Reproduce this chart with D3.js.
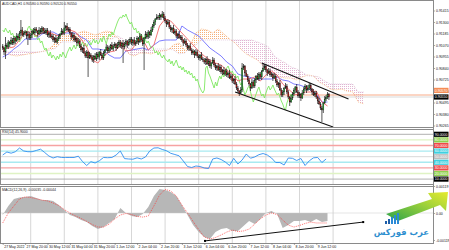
<!DOCTYPE html>
<html>
<head>
<meta charset="utf-8">
<script src="https://cdnjs.cloudflare.com/ajax/libs/d3/7.8.5/d3.min.js"></script>
<style>
body{margin:0;background:#fff;}
svg{display:block;}
</style>
</head>
<body>
<svg width="449" height="250"></svg>
<script>
// AUDCAD H1, one value per bar (234 bars)
const open = [
0.9106,0.9104,0.9100,0.9107,0.9105,0.9110,0.9108,0.9112,0.9109,0.9114,0.9111,0.9116,0.9114,0.9119,0.9122,0.9117,
0.9119,0.9120,0.9116,0.9118,0.9114,0.9117,0.9121,0.9119,0.9123,0.9121,0.9118,0.9122,0.9120,0.9124,0.9121,0.9119,
0.9122,0.9117,0.9119,0.9115,0.9116,0.9112,0.9114,0.9110,0.9113,0.9116,0.9118,0.9121,0.9119,0.9124,0.9126,0.9122,
0.9123,0.9119,0.9115,0.9117,0.9112,0.9114,0.9109,0.9111,0.9106,0.9102,0.9104,0.9099,0.9096,0.9100,0.9094,0.9097,
0.9095,0.9092,0.9096,0.9093,0.9098,0.9095,0.9100,0.9097,0.9094,0.9099,0.9102,0.9105,0.9101,0.9104,0.9107,0.9103,
0.9106,0.9108,0.9104,0.9107,0.9110,0.9106,0.9109,0.9105,0.9108,0.9111,0.9107,0.9110,0.9113,0.9109,0.9112,0.9108,
0.9110,0.9114,0.9110,0.9116,0.9112,0.9108,0.9114,0.9118,0.9115,0.9120,0.9117,0.9122,0.9126,0.9130,0.9133,0.9135,
0.9134,0.9137,0.9135,0.9138,0.9134,0.9131,0.9128,0.9130,0.9125,0.9122,0.9124,0.9119,0.9121,0.9116,0.9118,0.9114,
0.9115,0.9112,0.9109,0.9111,0.9107,0.9104,0.9106,0.9102,0.9099,0.9101,0.9097,0.9100,0.9096,0.9094,0.9097,0.9093,
0.9092,0.9090,0.9093,0.9088,0.9091,0.9086,0.9089,0.9092,0.9087,0.9084,0.9086,0.9082,0.9085,0.9080,0.9082,0.9078,
0.9081,0.9077,0.9079,0.9074,0.9076,0.9071,0.9073,0.9068,0.9064,0.9061,0.9059,0.9062,0.9084,0.9086,0.9079,0.9076,
0.9072,0.9068,0.9064,0.9070,0.9066,0.9072,0.9076,0.9073,0.9078,0.9075,0.9081,0.9084,0.9086,0.9082,0.9079,0.9081,
0.9077,0.9078,0.9074,0.9076,0.9071,0.9067,0.9069,0.9062,0.9057,0.9060,0.9064,0.9066,0.9060,0.9055,0.9050,0.9054,
0.9058,0.9062,0.9065,0.9060,0.9056,0.9058,0.9054,0.9059,0.9063,0.9066,0.9062,0.9064,0.9067,0.9063,0.9060,0.9057,
0.9059,0.9055,0.9051,0.9048,0.9044,0.9042,0.9049,0.9053,0.9055,0.9058];
const high = [
0.9108,0.9105,0.9115,0.9109,0.9112,0.9111,0.9115,0.9114,0.9116,0.9115,0.9119,0.9118,0.9121,0.9132,0.9125,0.9121,
0.9122,0.9121,0.9121,0.9120,0.9119,0.9122,0.9124,0.9125,0.9125,0.9122,0.9125,0.9124,0.9126,0.9125,0.9124,0.9124,
0.9124,0.9120,0.9122,0.9118,0.9118,0.9115,0.9117,0.9115,0.9118,0.9119,0.9124,0.9123,0.9130,0.9127,0.9129,0.9125,
0.9125,0.9120,0.9120,0.9119,0.9116,0.9115,0.9114,0.9113,0.9108,0.9105,0.9107,0.9101,0.9102,0.9101,0.9100,0.9099,
0.9097,0.9097,0.9099,0.9100,0.9100,0.9101,0.9103,0.9099,0.9101,0.9103,0.9108,0.9107,0.9106,0.9108,0.9110,0.9108,
0.9110,0.9109,0.9110,0.9112,0.9112,0.9110,0.9112,0.9110,0.9113,0.9112,0.9113,0.9115,0.9115,0.9113,0.9115,0.9112,
0.9116,0.9115,0.9119,0.9118,0.9114,0.9115,0.9121,0.9120,0.9122,0.9121,0.9125,0.9128,0.9132,0.9134,0.9138,0.9137,
0.9139,0.9138,0.9141,0.9140,0.9136,0.9132,0.9133,0.9132,0.9127,0.9125,0.9127,0.9123,0.9123,0.9119,0.9121,0.9117,
0.9117,0.9113,0.9114,0.9113,0.9109,0.9107,0.9109,0.9104,0.9103,0.9102,0.9103,0.9102,0.9098,0.9098,0.9100,0.9095,
0.9094,0.9094,0.9096,0.9093,0.9093,0.9090,0.9095,0.9094,0.9089,0.9087,0.9089,0.9087,0.9087,0.9083,0.9085,0.9083,
0.9083,0.9080,0.9082,0.9078,0.9078,0.9074,0.9076,0.9070,0.9066,0.9062,0.9065,0.9089,0.9088,0.9087,0.9082,0.9078,
0.9074,0.9069,0.9073,0.9072,0.9074,0.9077,0.9079,0.9080,0.9080,0.9082,0.9089,0.9088,0.9088,0.9083,0.9084,0.9083,
0.9080,0.9079,0.9079,0.9078,0.9073,0.9070,0.9072,0.9064,0.9062,0.9065,0.9069,0.9068,0.9062,0.9056,0.9057,0.9060,
0.9064,0.9066,0.9068,0.9062,0.9060,0.9059,0.9062,0.9065,0.9068,0.9067,0.9067,0.9069,0.9069,0.9064,0.9063,0.9061,
0.9061,0.9056,0.9054,0.9050,0.9046,0.9050,0.9056,0.9057,0.9060,0.9059];
const low = [
0.9102,0.9097,0.9093,0.9103,0.9103,0.9105,0.9107,0.9107,0.9107,0.9108,0.9110,0.9112,0.9112,0.9116,0.9116,0.9115,
0.9117,0.9113,0.9107,0.9112,0.9112,0.9114,0.9118,0.9117,0.9119,0.9115,0.9117,0.9118,0.9118,0.9118,0.9118,0.9117,
0.9115,0.9114,0.9114,0.9113,0.9110,0.9109,0.9109,0.9108,0.9111,0.9113,0.9117,0.9117,0.9117,0.9121,0.9121,0.9120,
0.9117,0.9112,0.9114,0.9110,0.9110,0.9106,0.9108,0.9104,0.9100,0.9099,0.9098,0.9094,0.9094,0.9075,0.9093,0.9093,
0.9090,0.9089,0.9092,0.9091,0.9093,0.9092,0.9096,0.9092,0.9092,0.9096,0.9101,0.9099,0.9099,0.9101,0.9102,0.9101,
0.9104,0.9101,0.9103,0.9105,0.9104,0.9103,0.9089,0.9103,0.9106,0.9104,0.9106,0.9108,0.9107,0.9106,0.9107,0.9106,
0.9108,0.9107,0.9109,0.9110,0.9106,0.9082,0.9113,0.9113,0.9113,0.9114,0.9116,0.9120,0.9124,0.9127,0.9132,0.9132,
0.9132,0.9132,0.9134,0.9132,0.9129,0.9125,0.9127,0.9123,0.9120,0.9119,0.9118,0.9117,0.9114,0.9113,0.9113,0.9112,
0.9110,0.9106,0.9108,0.9105,0.9102,0.9101,0.9101,0.9097,0.9097,0.9094,0.9096,0.9094,0.9092,0.9091,0.9092,0.9090,
0.9088,0.9087,0.9087,0.9086,0.9084,0.9083,0.9088,0.9085,0.9082,0.9081,0.9081,0.9080,0.9078,0.9077,0.9077,0.9076,
0.9075,0.9074,0.9073,0.9072,0.9069,0.9068,0.9067,0.9062,0.9059,0.9056,0.9058,0.9060,0.9082,0.9076,0.9075,0.9070,
0.9066,0.9061,0.9063,0.9064,0.9064,0.9069,0.9072,0.9071,0.9073,0.9072,0.9080,0.9082,0.9080,0.9076,0.9078,0.9075,
0.9075,0.9071,0.9073,0.9069,0.9065,0.9064,0.9061,0.9055,0.9055,0.9057,0.9063,0.9058,0.9053,0.9046,0.9049,0.9052,
0.9056,0.9059,0.9059,0.9054,0.9054,0.9051,0.9053,0.9057,0.9061,0.9059,0.9061,0.9062,0.9061,0.9057,0.9056,0.9055,
0.9053,0.9048,0.9047,0.9042,0.9030,0.9039,0.9048,0.9051,0.9053,0.9052];
const close = [
0.9104,0.9100,0.9107,0.9105,0.9110,0.9108,0.9112,0.9109,0.9114,0.9111,0.9116,0.9114,0.9119,0.9122,0.9117,0.9119,
0.9120,0.9116,0.9118,0.9114,0.9117,0.9121,0.9119,0.9123,0.9121,0.9118,0.9122,0.9120,0.9124,0.9121,0.9119,0.9122,
0.9117,0.9119,0.9115,0.9116,0.9112,0.9114,0.9110,0.9113,0.9116,0.9118,0.9121,0.9119,0.9124,0.9126,0.9122,0.9123,
0.9119,0.9115,0.9117,0.9112,0.9114,0.9109,0.9111,0.9106,0.9102,0.9104,0.9099,0.9096,0.9100,0.9094,0.9097,0.9095,
0.9092,0.9096,0.9093,0.9098,0.9095,0.9100,0.9097,0.9094,0.9099,0.9102,0.9105,0.9101,0.9104,0.9107,0.9103,0.9106,
0.9108,0.9104,0.9107,0.9110,0.9106,0.9109,0.9105,0.9108,0.9111,0.9107,0.9110,0.9113,0.9109,0.9112,0.9108,0.9110,
0.9114,0.9110,0.9116,0.9112,0.9108,0.9114,0.9118,0.9115,0.9120,0.9117,0.9122,0.9126,0.9130,0.9133,0.9135,0.9134,
0.9137,0.9135,0.9138,0.9134,0.9131,0.9128,0.9130,0.9125,0.9122,0.9124,0.9119,0.9121,0.9116,0.9118,0.9114,0.9115,
0.9112,0.9109,0.9111,0.9107,0.9104,0.9106,0.9102,0.9099,0.9101,0.9097,0.9100,0.9096,0.9094,0.9097,0.9093,0.9092,
0.9090,0.9093,0.9088,0.9091,0.9086,0.9089,0.9092,0.9087,0.9084,0.9086,0.9082,0.9085,0.9080,0.9082,0.9078,0.9081,
0.9077,0.9079,0.9074,0.9076,0.9071,0.9073,0.9068,0.9064,0.9061,0.9059,0.9062,0.9084,0.9086,0.9079,0.9076,0.9072,
0.9068,0.9064,0.9070,0.9066,0.9072,0.9076,0.9073,0.9078,0.9075,0.9081,0.9084,0.9086,0.9082,0.9079,0.9081,0.9077,
0.9078,0.9074,0.9076,0.9071,0.9067,0.9069,0.9062,0.9057,0.9060,0.9064,0.9066,0.9060,0.9055,0.9050,0.9054,0.9058,
0.9062,0.9065,0.9060,0.9056,0.9058,0.9054,0.9059,0.9063,0.9066,0.9062,0.9064,0.9067,0.9063,0.9060,0.9057,0.9059,
0.9055,0.9051,0.9048,0.9044,0.9042,0.9049,0.9053,0.9055,0.9058,0.9055];

// ichimoku, read every 4 bars
const TK_STEP = 4;
const tenkan = [0.9104,0.9104,0.9105,0.9112,0.9120,0.9120,0.9116,0.9119,0.9121,0.9118,0.9116,0.9119,0.9122,0.9120,0.9113,0.9105,
0.9092,0.9089,0.9096,0.9100,0.9101,0.9106,0.9101,0.9102,0.9110,0.9113,0.9102,0.9107,0.9126,0.9133,0.9131,0.9125,0.9119,0.9113,
0.9107,0.9101,0.9096,0.9092,0.9089,0.9087,0.9082,0.9078,0.9071,0.9073,0.9073,0.9075,0.9071,0.9077,0.9081,0.9077,0.9068,0.9063,
0.9058,0.9057,0.9060,0.9060,0.9061,0.9050,0.9046];
const kijun = [0.9095,0.9098,0.9103,0.9107,0.9113,0.9113,0.9113,0.9118,0.9120,0.9120,0.9117,0.9119,0.9119,0.9119,0.9115,0.9112,
0.9103,0.9103,0.9102,0.9097,0.9094,0.9094,0.9101,0.9102,0.9103,0.9104,0.9102,0.9107,0.9111,0.9112,0.9112,0.9112,0.9126,0.9122,
0.9119,0.9116,0.9110,0.9104,0.9100,0.9096,0.9090,0.9086,0.9078,0.9076,0.9075,0.9073,0.9073,0.9073,0.9073,0.9075,0.9072,0.9071,
0.9068,0.9067,0.9065,0.9062,0.9058,0.9050,0.9050];
// senkou spans, every 4 slots starting at slot 2 (already shifted 26 bars ahead)
const SPAN_START = 2, SPAN_STEP = 4;
const spanA = [0.9098,0.9097,0.9096,0.9097,0.9098,0.9099,
0.9100,0.9101,0.9104,0.9110,0.9117,0.9117,0.9115,0.9119,0.9121,0.9119,0.9117,0.9119,0.9121,0.9120,0.9114,0.9109,0.9098,0.9096,
0.9099,0.9099,0.9098,0.9100,0.9101,0.9102,0.9107,0.9109,0.9102,0.9107,0.9119,0.9123,0.9122,0.9119,0.9123,0.9118,0.9113,0.9109,
0.9103,0.9098,0.9095,0.9092,0.9086,0.9082,0.9075,0.9075,0.9074,0.9074,0.9072,0.9075,0.9077,0.9076,0.9070,0.9067,0.9063,0.9062,
0.9063,0.9061,0.9060,0.9050,0.9048];
const spanB = [0.9100,0.9100,0.9101,0.9101,0.9100,0.9100,
0.9100,0.9101,0.9102,0.9104,0.9110,0.9110,0.9110,0.9110,0.9111,0.9111,0.9113,0.9113,0.9113,0.9113,0.9116,0.9113,0.9104,0.9103,
0.9103,0.9103,0.9103,0.9103,0.9103,0.9103,0.9102,0.9098,0.9099,0.9104,0.9107,0.9112,0.9112,0.9112,0.9112,0.9112,0.9112,0.9112,
0.9112,0.9112,0.9112,0.9110,0.9108,0.9105,0.9096,0.9092,0.9089,0.9085,0.9083,0.9080,0.9076,0.9076,0.9075,0.9071,0.9068,0.9068,
0.9068,0.9068,0.9068,0.9060,0.9060];

// RSI(14), read every 3 bars
const RSI_STEP = 3;
const rsi = [53.0,58.4,56.3,58.8,65.5,60.2,58.9,58.9,61.1,63.4,57.5,51.2,47.7,50.0,48.6,48.6,48.6,48.6,50.9,41.4,
34.3,41.1,38.8,42.7,48.6,48.2,48.6,53.0,60.2,46.6,45.9,45.5,48.0,45.9,49.5,60.2,65.5,65.9,62.9,60.7,
56.1,53.9,51.6,42.3,32.5,30.7,33.4,32.5,29.8,28.9,45.9,47.7,45.0,40.5,34.3,47.1,37.0,44.1,54.8,47.3,
49.5,53.6,55.7,53.0,47.7,39.6,39.6,35.2,47.7,47.1,43.2,46.8,34.3,42.7,48.0,48.6,39.6,45.9];
const rsiLevels = [90, 80, 70, 60, 50, 40, 30, 20, 10];

// MACD(12,26,9), read every 4 bars
const MACD_STEP = 4;
const macdMain = [-0.00009,0.00031,0.00062,0.00068,0.00071,0.00075,0.00066,0.00057,0.00057,0.00053,
0.00035,0.00013,-0.00009,-0.00018,-0.00031,-0.00040,-0.00057,-0.00071,-0.00062,-0.00044,
-0.00026,0.00022,0.00000,-0.00013,-0.00018,-0.00004,0.00026,0.00075,0.00106,0.00101,
0.00093,0.00075,0.00035,-0.00009,-0.00053,-0.00084,-0.00106,-0.00115,-0.00084,-0.00071,
-0.00066,-0.00079,-0.00079,-0.00057,-0.00035,-0.00049,-0.00026,0.00000,0.00009,-0.00004,
-0.00066,-0.00053,-0.00035,-0.00035,-0.00031,-0.00040,-0.00026,-0.00040,-0.00035];
const macdSignal = [-0.00044,0.00000,0.00031,0.00062,0.00071,0.00068,0.00063,0.00057,0.00053,0.00044,
0.00033,0.00015,0.00000,-0.00013,-0.00024,-0.00037,-0.00051,-0.00062,-0.00062,-0.00049,
-0.00026,-0.00009,-0.00002,-0.00007,-0.00015,-0.00018,-0.00013,0.00031,0.00079,0.00104,
0.00097,0.00075,0.00035,0.00000,-0.00037,-0.00073,-0.00106,-0.00115,-0.00108,-0.00097,
-0.00084,-0.00075,-0.00082,-0.00079,-0.00071,-0.00049,-0.00026,-0.00009,0.00000,-0.00007,
-0.00031,-0.00053,-0.00062,-0.00055,-0.00046,-0.00040,-0.00044,-0.00044,-0.00044];
const macdRange = [-0.00119, 0.00119];

// axes
const priceTicks = [0.91415,0.91300,0.91185,0.91070,0.90955,0.90840,0.90725,0.90610,0.90495,0.90380,0.90265];
const timeBars = [0,16,32,48,64,80,96,112,128,144,160,176,192,208,224];
const timeLabels = ["27 May 2022","27 May 20:00","30 May 12:00","31 May 04:00","31 May 20:00","1 Jun 12:00",
  "2 Jun 04:00","2 Jun 20:00","3 Jun 12:00","6 Jun 04:00","6 Jun 20:00","7 Jun 12:00","8 Jun 04:00",
  "8 Jun 20:00","9 Jun 12:00"];
const gridBars = [20,44,68,92,116,140,164,188,212,236];

// objects drawn on the chart: [bar, value]
const hLevel = 0.9057;
const channelUp = [[185,0.9089],[247,0.9053]];
const channelDn = [[166,0.9060],[236,0.9025]];
const macdTrend = [[144.5,-0.00123],[257.5,-0.00040]];

const FONT = "Liberation Sans, Arial, sans-serif";
const RIGHT = 433.5;
const svg = d3.select("svg");
const defs = svg.append("defs");

const x = d3.scaleLinear().domain([0, 300]).range([2.7, 422.7]);
const yP = d3.scaleLinear().domain([0.9024, 0.9152]).range([128, 0]);
const yR = d3.scaleLinear().domain([0, 100]).range([184.7, 128.7]);
const yM = d3.scaleLinear().domain(macdRange).range([240, 186]);

const panels = [[0.5,127.5],[129.5,184.5],[186.5,243.5]];
panels.forEach((p,i)=>{
  defs.append("clipPath").attr("id","clip"+i).append("rect")
    .attr("x",0.5).attr("y",p[0]).attr("width",RIGHT-0.5).attr("height",p[1]-p[0]);
});

// dotted hatching for the cloud
function dots(id, color){
  const p = defs.append("pattern").attr("id",id).attr("width",2).attr("height",2)
    .attr("patternUnits","userSpaceOnUse");
  p.append("rect").attr("width",1).attr("height",1).attr("fill",color);
}
dots("sandy","#f6b07a");
dots("thistle","#e2b4d2");

// grid
panels.forEach(p=>{
  svg.append("g").selectAll("line").data(gridBars).join("line")
    .attr("x1",d=>x(d)).attr("x2",d=>x(d)).attr("y1",p[0]).attr("y2",p[1])
    .attr("stroke","#8c8c8c").attr("stroke-width",0.7).attr("stroke-dasharray","1,1");
});

// ---------------- main panel ----------------
const gMain = svg.append("g").attr("clip-path","url(#clip0)");
const slot = k => SPAN_START + k*SPAN_STEP;

defs.append("clipPath").attr("id","aboveB").append("path")
  .attr("d", d3.area().x((d,k)=>x(slot(k))).y0(0).y1(d=>yP(d))(spanB));
defs.append("clipPath").attr("id","belowB").append("path")
  .attr("d", d3.area().x((d,k)=>x(slot(k))).y0(128).y1(d=>yP(d))(spanB));
const cloud = d3.area().x((d,k)=>x(slot(k))).y0((d,k)=>yP(spanB[k])).y1(d=>yP(d));
gMain.append("path").attr("d",cloud(spanA)).attr("fill","url(#sandy)").attr("clip-path","url(#aboveB)");
gMain.append("path").attr("d",cloud(spanA)).attr("fill","url(#thistle)").attr("clip-path","url(#belowB)");
const spanLine = d3.line().x((d,k)=>x(slot(k))).y(d=>yP(d));
gMain.append("path").attr("d",spanLine(spanA)).attr("fill","none").attr("stroke","#f4a460")
  .attr("stroke-width",0.7).attr("stroke-dasharray","1,1");
gMain.append("path").attr("d",spanLine(spanB)).attr("fill","none").attr("stroke","#d8bfd8")
  .attr("stroke-width",0.7).attr("stroke-dasharray","1,1");

// horizontal level and bid line
gMain.append("line").attr("x1",0).attr("x2",RIGHT).attr("y1",yP(hLevel)).attr("y2",yP(hLevel))
  .attr("stroke","#f7a27c").attr("stroke-width",0.9);
const bid = close[close.length-1];
gMain.append("line").attr("x1",0).attr("x2",RIGHT).attr("y1",yP(bid)).attr("y2",yP(bid))
  .attr("stroke","#c8c8c8").attr("stroke-width",0.7);

// chikou span: close moved 26 bars back
const chikou = close.map((c,i)=>[i-26,c]).filter(d=>d[0]>=0);
gMain.append("path").attr("d",d3.line().x(d=>x(d[0])).y(d=>yP(d[1]))(chikou))
  .attr("fill","none").attr("stroke","#7ee860").attr("stroke-width",0.9);

const tkLine = d3.line().x((d,k)=>x(k*TK_STEP)).y(d=>yP(d));
gMain.append("path").attr("d",tkLine(kijun)).attr("fill","none").attr("stroke","#6f6fff").attr("stroke-width",0.9);
gMain.append("path").attr("d",tkLine(tenkan)).attr("fill","none").attr("stroke","#f06a6a").attr("stroke-width",0.9);

// candles
const bars = close.map((c,i)=>({i:i, o:open[i], h:high[i], l:low[i], c:c}));
const candle = gMain.append("g").selectAll("g").data(bars).join("g");
candle.append("line")
  .attr("x1",d=>x(d.i)).attr("x2",d=>x(d.i)).attr("y1",d=>yP(d.h)).attr("y2",d=>yP(d.l))
  .attr("stroke","#111").attr("stroke-width",0.7);
candle.append("rect")
  .attr("x",d=>x(d.i)-0.6).attr("width",1.2)
  .attr("y",d=>yP(Math.max(d.o,d.c)))
  .attr("height",d=>Math.max(0.6, Math.abs(yP(d.o)-yP(d.c))))
  .attr("fill",d=>d.c>=d.o ? "#1c9a2a" : "#a31414")
  .attr("stroke","#222").attr("stroke-width",0.25);

// channel
[channelUp, channelDn].forEach(t=>{
  gMain.append("line").attr("x1",x(t[0][0])).attr("y1",yP(t[0][1])).attr("x2",x(t[1][0])).attr("y2",yP(t[1][1]))
    .attr("stroke","#111").attr("stroke-width",1.1);
});

svg.append("text").attr("x",2).attr("y",5).attr("font-family",FONT).attr("font-size",3.5).attr("fill","#222")
  .text("AUDCAD,H1  " + [open, high, low, close].map(a=>a[a.length-1].toFixed(5)).join(" "));

// ---------------- RSI panel ----------------
const gRsi = svg.append("g").attr("clip-path","url(#clip1)");
const levelStyle = {90:["#a8a8a8","#000"],80:["#dff3c4","#8fd14f"],70:["#f6a2a2","#f04848"],60:["#a9eaf0","#3fd0e0"],
  50:["#d4d4d4","#bdbdbd"],40:["#a9eaf0","#3fd0e0"],30:["#f6a2a2","#f04848"],20:["#dff3c4","#8fd14f"],10:["#a8a8a8","#000"]};
gRsi.selectAll("line.lvl").data(rsiLevels).join("line").attr("class","lvl")
  .attr("x1",0).attr("x2",RIGHT).attr("y1",d=>yR(d)).attr("y2",d=>yR(d))
  .attr("stroke",d=>levelStyle[d][0]).attr("stroke-width",d=>(d==90||d==10||d==50)?0.9:1.4);
gRsi.append("path").attr("d",d3.line().x((d,k)=>x(k*RSI_STEP)).y(d=>yR(d))(rsi))
  .attr("fill","none").attr("stroke","#2f8ff0").attr("stroke-width",0.9);
svg.append("text").attr("x",2).attr("y",132.5).attr("font-family",FONT).attr("font-size",3.5).attr("fill","#222")
  .text("RSI(14) " + rsi[rsi.length-1].toFixed(4));

// ---------------- MACD panel ----------------
const gMacd = svg.append("g").attr("clip-path","url(#clip2)");
gMacd.append("path").attr("d",d3.area().x((d,k)=>x(k*MACD_STEP)).y0(yM(0)).y1(d=>yM(d))(macdMain))
  .attr("fill","#b7b7b7");
gMacd.append("line").attr("x1",0).attr("x2",RIGHT).attr("y1",yM(0)).attr("y2",yM(0))
  .attr("stroke","#c8c8c8").attr("stroke-width",0.5);
gMacd.append("path").attr("d",d3.line().x((d,k)=>x(k*MACD_STEP)).y(d=>yM(d))(macdSignal))
  .attr("fill","none").attr("stroke","#ff3030").attr("stroke-width",0.7).attr("stroke-dasharray","1,1");
gMacd.append("line").attr("x1",x(macdTrend[0][0])).attr("y1",yM(macdTrend[0][1]))
  .attr("x2",x(macdTrend[1][0])).attr("y2",yM(macdTrend[1][1])).attr("stroke","#111").attr("stroke-width",1);
gMacd.selectAll("rect.h").data(macdTrend).join("rect").attr("class","h")
  .attr("x",d=>x(d[0])-1).attr("y",d=>yM(d[1])-1).attr("width",2).attr("height",2).attr("fill","#000");
svg.append("text").attr("x",2).attr("y",190.5).attr("font-family",FONT).attr("font-size",3.5).attr("fill","#222")
  .text("MACD(12,26,9) " + macdMain[macdMain.length-1].toFixed(5) + " " + macdSignal[macdSignal.length-1].toFixed(5));

// ---------------- frames & axes ----------------
panels.forEach(p=>{
  svg.append("rect").attr("x",0.5).attr("y",p[0]).attr("width",RIGHT-0.5).attr("height",p[1]-p[0])
    .attr("fill","none").attr("stroke","#8a8a8a").attr("stroke-width",1);
});

function styleAxis(g){
  g.select(".domain").remove();
  g.selectAll("line").attr("stroke","#555").attr("stroke-width",0.5);
  g.selectAll("text").attr("font-size",3.5).attr("font-family",FONT).attr("fill","#111");
}
const axP = svg.append("g").attr("transform","translate("+RIGHT+",0)")
  .call(d3.axisRight(yP).tickValues(priceTicks).tickSize(1.5).tickPadding(1).tickFormat(d3.format(".5f")));
styleAxis(axP);

const axM = svg.append("g").attr("transform","translate("+RIGHT+",0)")
  .call(d3.axisRight(yM).tickValues([macdRange[1],0,macdRange[0]]).tickSize(1.5).tickPadding(1)
    .tickFormat(d=>d===0?"0.00":d.toFixed(5)));
styleAxis(axM);

const axT = svg.append("g").attr("transform","translate(0,243.5)")
  .call(d3.axisBottom(x).tickValues(timeBars).tickSize(1.5).tickFormat((d,i)=>timeLabels[i]));
styleAxis(axT);
axT.selectAll("text").attr("text-anchor","start").attr("x",1).attr("y",1.8);

// value tags on the right
function tag(yc, fill, label){
  svg.append("rect").attr("x",RIGHT+0.5).attr("y",yc-2.6).attr("width",14.5).attr("height",5.2).attr("fill",fill);
  svg.append("text").attr("x",RIGHT+1.3).attr("y",yc+1.25).attr("font-family",FONT).attr("font-size",3.5)
    .attr("fill","#fff").text(label);
}
rsiLevels.forEach(v=>tag(yR(v), levelStyle[v][1], v.toFixed(4)));
tag(yP(hLevel)-4.6, "#f58c55", hLevel.toFixed(5));
tag(yP(bid), "#000", bid.toFixed(5));

svg.append("line").attr("x1",RIGHT).attr("x2",RIGHT).attr("y1",0).attr("y2",243.5)
  .attr("stroke","#8a8a8a").attr("stroke-width",1);

// ---------------- logo ----------------
const grad = defs.append("linearGradient").attr("id","arrowGrad")
  .attr("x1","0%").attr("y1","100%").attr("x2","100%").attr("y2","0%");
grad.append("stop").attr("offset","0%").attr("stop-color","#2aa24c");
grad.append("stop").attr("offset","60%").attr("stop-color","#9fd23a");
grad.append("stop").attr("offset","100%").attr("stop-color","#e6ea2e");
const logo = svg.append("g");
logo.append("path").attr("d","M386,214 L432,199 L428,193 L448,192 L446,211 L440,205 L398,221 Z")
  .attr("fill","url(#arrowGrad)");
[3,5,7,9,11].forEach((h,i)=>{
  logo.append("rect").attr("x",385+i*3).attr("y",224-h).attr("width",2).attr("height",h)
    .attr("fill",i<2?"#1e5ea8":"#2a8ad6");
});
logo.append("text").attr("x",401.5).attr("y",235).attr("text-anchor","middle")
  .attr("font-family","DejaVu Sans, sans-serif").attr("font-weight","bold").attr("font-size",8.5)
  .attr("fill","#2f8fcf").text("عرب فوركس");
</script>
</body>
</html>
